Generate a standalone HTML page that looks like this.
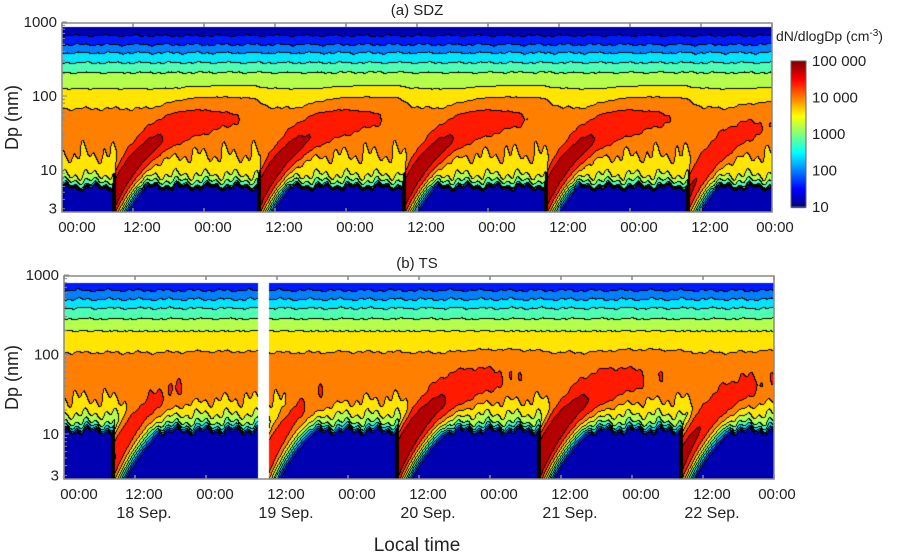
<!DOCTYPE html>
<html><head><meta charset="utf-8">
<style>
body{margin:0;background:#fff;width:900px;height:553px;overflow:hidden;font-family:"Liberation Sans",sans-serif;}
#wrap{position:relative;width:900px;height:553px;}
canvas{position:absolute;left:0;top:0;}
svg{position:absolute;left:0;top:0;}
</style></head>
<body>
<div id="wrap">
<canvas id="cv" width="900" height="553"></canvas>
<svg id="sv" width="900" height="553"></svg>
</div>
<script>
// ---- data ----
const timeTickLabels = ["00:00","12:00","00:00","12:00","00:00","12:00","00:00","12:00","00:00","12:00","00:00"];
const dateLabels = ["18 Sep.","19 Sep.","20 Sep.","21 Sep.","22 Sep."];
const dateHours = [12,36,60,84,108];
const yTickValues = [1000,100,10,3];
const cbarTickValues = [100000,10000,1000,100,10];
const cbarTickLabels = ["100 000","10 000","1000","100","10"];
// panel a (SDZ) background profile: log10 dN/dlogDp at log10 Dp knots
const aKnots = [0.40,0.74,0.80,0.9,1.0,1.2,1.5,1.75,1.95,2.1,2.3,2.45,2.6,2.75,2.95];
const aBase  = [0.9,0.9,2.6,3.3,3.55,3.8,3.95,3.9,3.65,3.4,3.05,2.6,2.15,1.6,1.0];
// panel a nucleation events
const aEventStart = [8.5,33,57.5,81.5,105.5];
const aEventPeak  = [4.95,4.95,4.95,4.95,4.7];
const aEventDecay = [20,20,20,20,16];
// panel b (TS) background
const bKnots = [0.40,1.0,1.08,1.15,1.25,1.4,1.6,1.8,1.95,2.1,2.3,2.45,2.6,2.75,2.95];
const bBase  = [0.9,0.9,2.4,3.0,3.4,3.75,3.95,4.0,3.9,3.7,3.4,3.0,2.55,2.0,1.3];
const bEventStart = [8,34,56,80,104];
const bEventPeak  = [4.65,4.65,5.15,5.15,4.85];
const bEventDecay = [14,12,14,14,14];

// ---- geometry ----
const PA = {x0:62,x1:771,yd0:27,yd1:211,ldRef:22,pxDec:74,frameTop:23,frameBot:212,frameR:772};
const PB = {x0:64,x1:773,yd0:283,yd1:478,ldRef:275,pxDec:79.5,frameTop:276,frameBot:479,frameR:774,gap:[258,268]};
const HOURPX = 71/12;

function interp(kn,vals,x){
  if(x<=kn[0])return vals[0];
  for(let i=1;i<kn.length;i++){ if(x<=kn[i]){const f=(x-kn[i-1])/(kn[i]-kn[i-1]);return vals[i-1]+f*(vals[i]-vals[i-1]);} }
  return vals[vals.length-1];
}
function eventVal(t,ld,t0,S,dec){
  const tau=t-t0; if(tau<0||tau>30) return -9;
  const ldc=0.62+(1.75-0.62)*(1-Math.exp(-tau/7));
  let w=0.27+0.06*Math.min(tau,12)/12;
  if(ld<ldc) w=Math.max(0.2,0.27-0.07*Math.min(tau,8)/8);
  let v=S-0.7*((ld-ldc)/w)**2-tau/dec;
  if(tau<0.6) v-=(0.6-tau)*4;
  if(tau>24) v-=(tau-24)*0.3;
  return v;
}
function field(t,ld,kn,base,st,pk,dc){
  const wig=0.05*Math.sin(t*1.3+ld*5)+0.04*Math.sin(t*3.7+ld*3);
  let s=Math.pow(10,interp(kn,base,ld+wig*0.5));
  let ev=0;
  for(let i=0;i<st.length;i++){const e=eventVal(t,ld,st[i],pk[i],dc[i]); if(e>-5) ev+=Math.pow(10,e);}
  return Math.log10(s*Math.pow(10,wig)+ev);
}
function jet(v){const c=x=>Math.max(0,Math.min(1,x));return [c(1.5-Math.abs(4*v-3)),c(1.5-Math.abs(4*v-2)),c(1.5-Math.abs(4*v-1))];}
const NB=10;
const bandCol=[];for(let i=0;i<NB;i++){const c=jet((i+0.5)/NB);bandCol.push(c.map(x=>Math.round(x*255)));}

const cv=document.getElementById('cv');const ctx=cv.getContext('2d');
const img=ctx.createImageData(900,553);
function renderPanel(P,kn,base,st,pk,dc){
  const W=P.x1-P.x0+1,H=P.yd1-P.yd0+1;const idx=new Int8Array(W*H);
  for(let j=0;j<H;j++){const ld=3-(P.yd0+j-P.ldRef)/P.pxDec;
    for(let i=0;i<W;i++){const t=i/HOURPX;const v=field(t,ld,kn,base,st,pk,dc);
      idx[j*W+i]=Math.max(0,Math.min(NB-1,Math.floor((v-1)/0.4)));}}
  for(let j=0;j<H;j++)for(let i=0;i<W;i++){
    const x=P.x0+i,y=P.yd0+j;
    if(P.gap&&x>=P.gap[0]&&x<=P.gap[1])continue;
    const k=idx[j*W+i];let col=bandCol[k];
    if((i<W-1&&idx[j*W+i+1]!==k)||(j<H-1&&idx[(j+1)*W+i]!==k))col=[0,0,0];
    const p=(y*900+x)*4;img.data[p]=col[0];img.data[p+1]=col[1];img.data[p+2]=col[2];img.data[p+3]=255;}
}
renderPanel(PA,aKnots,aBase,aEventStart,aEventPeak,aEventDecay);
renderPanel(PB,bKnots,bBase,bEventStart,bEventPeak,bEventDecay);
// colorbar
for(let y=61;y<=207;y++){const v=(207-y)/146;const c=jet(v);
  for(let x=791;x<=805;x++){const p=(y*900+x)*4;img.data[p]=c[0]*255;img.data[p+1]=c[1]*255;img.data[p+2]=c[2]*255;img.data[p+3]=255;}}
ctx.putImageData(img,0,0);

// ---- svg overlay ----
const sv=document.getElementById('sv');const NS='http://www.w3.org/2000/svg';
function mk(tag,attrs,parent){const e=document.createElementNS(NS,tag);for(const k in attrs)e.setAttribute(k,attrs[k]);(parent||sv).appendChild(e);return e;}
function txt(s,x,y,size,anchor,parent){const e=mk('text',{x:x,y:y,'font-size':size,'text-anchor':anchor||'middle',fill:'#222','font-family':'Liberation Sans, sans-serif'},parent);e.textContent=s;return e;}
function axes(P,name,title,showDates){
  const g=mk('g',{});
  
  
  const fr=mk('rect',{x:P.x0,y:P.frameTop,width:P.frameR-P.x0,height:P.frameBot-P.frameTop,fill:'none',stroke:'#888','stroke-width':1.5},g);
  
  
  const tt=txt(title,417,P.frameTop-8,15,'middle',g);
  
  
  const yOf=v=>P.ldRef+(3-Math.log10(v))*P.pxDec;
  for(let i=0;i<timeTickLabels.length;i++){
    const x=P.x0+i*71;
    mk('line',{x1:x,y1:P.frameTop,x2:x,y2:P.frameTop+4,stroke:'#888','stroke-width':1.5},g);
    mk('line',{x1:x,y1:P.frameBot,x2:x,y2:P.frameBot-4,stroke:'#888','stroke-width':1.5},g);
    const l=txt(timeTickLabels[i],x+9+(i==0?6:0)-(i==10?6:0),P.frameBot+20,15,'middle',g);
    
    
  }
  for(let d=1;d<=3;d++)for(let m=1;m<10;m++){const val=m*Math.pow(10,d);
    if(val<3||val>1000)continue;const y=yOf(val);
    mk('line',{x1:P.x0,y1:y,x2:P.x0+(m==1?5:3),y2:y,stroke:'#888','stroke-width':1},g);}
  for(let m=3;m<10;m++){const y=yOf(m);mk('line',{x1:P.x0,y1:y,x2:P.x0+3,y2:y,stroke:'#888','stroke-width':1},g);}
  for(const v of yTickValues){const l=txt(String(v),P.x0-5,yOf(v)+5,15,'end',g);
    
    }
  const yc=(P.frameTop+P.frameBot)/2;
  const yl=txt('Dp (nm)',0,0,18,'middle',g);yl.setAttribute('transform','translate(18,'+yc+') rotate(-90)');
  
  
  if(showDates){for(let i=0;i<dateLabels.length;i++){const l=txt(dateLabels[i],P.x0+dateHours[i]*HOURPX+9,P.frameBot+39,16,'middle',g);
    
    }}
}
axes(PA,'panel-a-sdz','(a) SDZ',false);
axes(PB,'panel-b-ts','(b) TS',true);
const xt=txt('Local time',417,551,19,'middle');


// colorbar
const cb=mk('g',{});


mk('rect',{x:791,y:61,width:15,height:146,fill:'none',stroke:'#666','stroke-width':1},cb);
const ct=mk('text',{x:776,y:41,'font-size':14,'text-anchor':'start',fill:'#222'},cb);
ct.innerHTML='dN/dlogDp (cm<tspan dy="-5" font-size="10">-3</tspan><tspan dy="5">)</tspan>';


for(let i=0;i<cbarTickValues.length;i++){const y=207-(Math.log10(cbarTickValues[i])-1)/4*146;
  const l=txt(cbarTickLabels[i],812,y+5,15,'start',cb);
  
  }
</script>
</body></html>
